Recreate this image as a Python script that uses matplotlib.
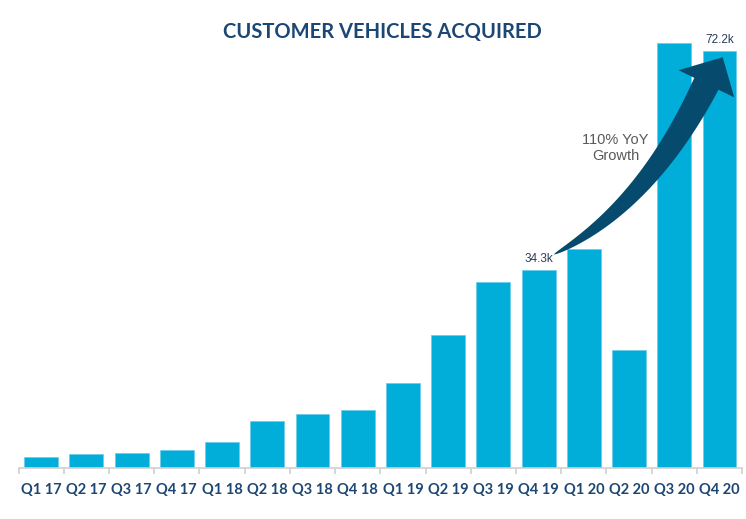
import matplotlib
matplotlib.use('Agg')
import matplotlib.pyplot as plt
import numpy as np
from matplotlib.patches import Polygon

quarters = ['Q1 17', 'Q2 17', 'Q3 17', 'Q4 17', 'Q1 18', 'Q2 18', 'Q3 18', 'Q4 18',
            'Q1 19', 'Q2 19', 'Q3 19', 'Q4 19', 'Q1 20', 'Q2 20', 'Q3 20', 'Q4 20']
vehicles = [1.8, 2.4, 2.6, 3.1, 4.45, 8.0, 9.35, 10.0,
            14.7, 22.9, 32.2, 34.3, 37.8, 20.3, 73.5, 72.2]  # thousands
labels = {11: '34.3k', 15: '72.2k'}

bar_color = '#00aed9'
navy = '#1c4673'
arrow_color = '#064b6e'

fig = plt.figure(figsize=(7.46, 5.19), dpi=100)
ax = fig.add_axes([0.0248, 0.099, 0.970, 0.843])

x = range(len(quarters))
ax.bar(x, vehicles, width=0.75, color=bar_color, edgecolor='#6fcde8', linewidth=0.6, zorder=2)

ax.set_xlim(-0.5, len(quarters) - 0.5)
ax.set_ylim(0, 75.8)

for s in ['top', 'right', 'left']:
    ax.spines[s].set_visible(False)
ax.spines['bottom'].set_color('#d0d0d0')
ax.spines['bottom'].set_linewidth(1.2)
ax.set_yticks([])

# ticks sit at category boundaries, labels at centres
ax.set_xticks([i - 0.5 for i in range(len(quarters) + 1)])
ax.set_xticklabels([])
ax.tick_params(axis='x', which='major', length=4, width=1.2, color='#d0d0d0')
ax.set_xticks(list(x), minor=True)
ax.set_xticklabels(quarters, minor=True, fontfamily='Lato', fontweight='bold',
                   fontsize=10.5, color=navy)
ax.tick_params(axis='x', which='minor', length=0, pad=11)

for i, txt in labels.items():
    ax.text(i, vehicles[i] + 0.8, txt, ha='center', va='bottom',
            fontsize=8.5, color='#2b3d5c', fontfamily='Liberation Sans')


# curved, tapering growth arrow (Q4 19 -> Q4 20), built in pixel space
def growth_arrow(ax, start, ctrl, end, max_w=27, head_w=62, head_len=31, skew=3):
    to_px = ax.transData.transform
    p0, c, p2 = to_px(start), to_px(ctrl), to_px(end)
    t = np.linspace(0, 1, 60)[:, None]
    pts = (1 - t) ** 2 * p0 + 2 * (1 - t) * t * c + t ** 2 * p2
    der = 2 * (1 - t) * (c - p0) + 2 * t * (p2 - c)
    tan = der / np.linalg.norm(der, axis=1)[:, None]
    left = np.column_stack([-tan[:, 1], tan[:, 0]])
    w = max_w * t[:, 0] ** 0.65 / 2
    upper = pts + left * w[:, None]
    lower = pts - left * w[:, None]
    T, N = tan[-1], left[-1]
    head = [p2 + N * head_w / 2, p2 + T * head_len - N * skew, p2 - N * head_w / 2]
    poly = np.vstack([upper, head, lower[::-1]])
    poly = ax.transData.inverted().transform(poly)
    ax.add_patch(Polygon(poly, closed=True, facecolor=arrow_color, edgecolor='none', zorder=4))


fig.canvas.draw()
growth_arrow(ax, (11.33, 36.9), (13.38, 45.2), (14.71, 66.5))

ax.text(12.7, 55.4, '110% YoY\nGrowth', ha='center', va='center', fontsize=10.5,
        color='#595959', fontfamily='Liberation Sans', linespacing=1.2)

fig.text(0.513, 0.938, 'CUSTOMER VEHICLES ACQUIRED', ha='center', va='center',
         fontfamily='Lato', fontweight='bold', fontsize=14.5, color=navy)

fig.savefig('out.png', dpi=100)
